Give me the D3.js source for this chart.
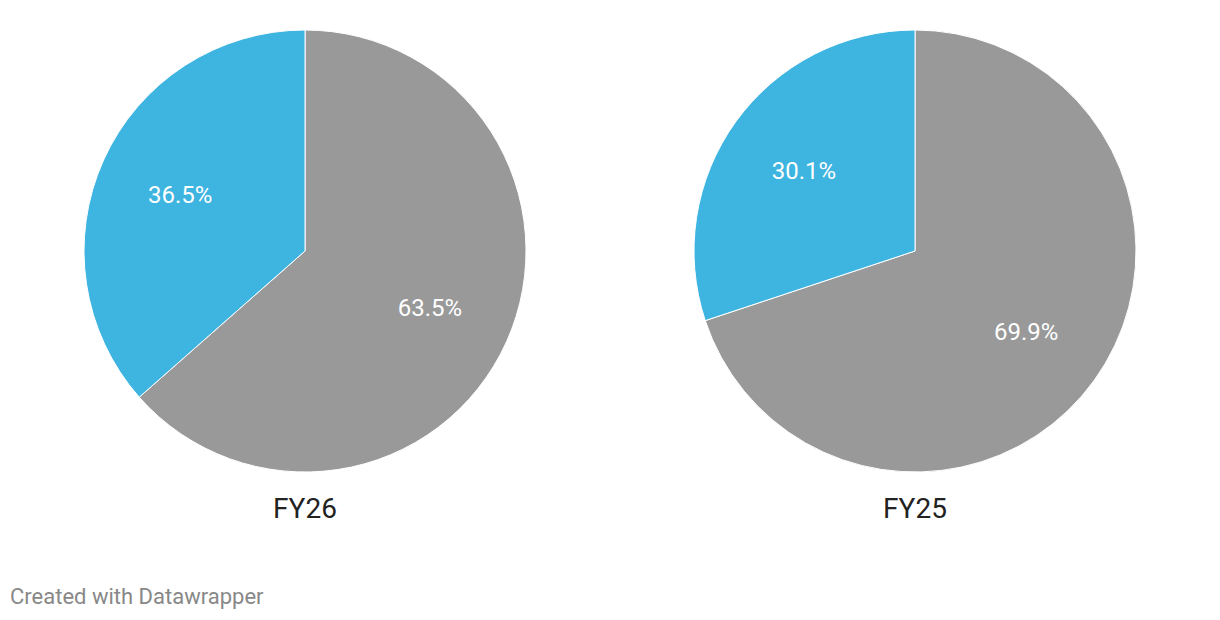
<!DOCTYPE html>
<html><head><meta charset="utf-8">
<script src="https://cdn.jsdelivr.net/npm/d3@7"></script>
<style>body{margin:0;background:#fff;}svg{display:block;font-family:Roboto,sans-serif;}</style>
</head><body>
<svg id="c" width="1220" height="620"></svg>
<script>
const categories = ["Other", "Segment"];
const charts = ["FY26", "FY25"];
const fy26Values = [63.5, 36.5];
const fy25Values = [69.9, 30.1];
const colors = ["#999999", "#3eb4e1"];
const footer = "Created with Datawrapper";

const svg = d3.select("#c");
const R = 221;
const centers = [305, 915];
const series = [fy26Values, fy25Values];
const pie = d3.pie().sort(null).value(d => d);
const arc = d3.arc().innerRadius(0).outerRadius(R);
const labelArc = d3.arc().innerRadius(R * 0.62).outerRadius(R * 0.62);

series.forEach((vals, i) => {
  const g = svg.append("g").attr("transform", `translate(${centers[i]},251)`);
  const arcs = pie(vals);
  g.selectAll("path").data(arcs).join("path")
    .attr("d", arc).attr("fill", (d, j) => colors[j])
    .attr("stroke", "#fff").attr("stroke-width", 1);
  g.selectAll("text.lbl").data(arcs).join("text").attr("class", "lbl")
    .attr("transform", d => `translate(${labelArc.centroid(d)})`)
    .attr("text-anchor", "middle").attr("dy", "0.36em")
    .attr("fill", "#fff").attr("font-size", 24)
    .text(d => d3.format(".1f")(d.data) + "%");
  svg.append("text").attr("x", centers[i]).attr("y", 518)
    .attr("text-anchor", "middle").attr("font-size", 28).attr("fill", "#222")
    .text(charts[i]);
});

svg.append("text").attr("x", 10).attr("y", 604).attr("font-size", 22)
  .attr("fill", "#888").text(footer);
</script>
</body></html>
